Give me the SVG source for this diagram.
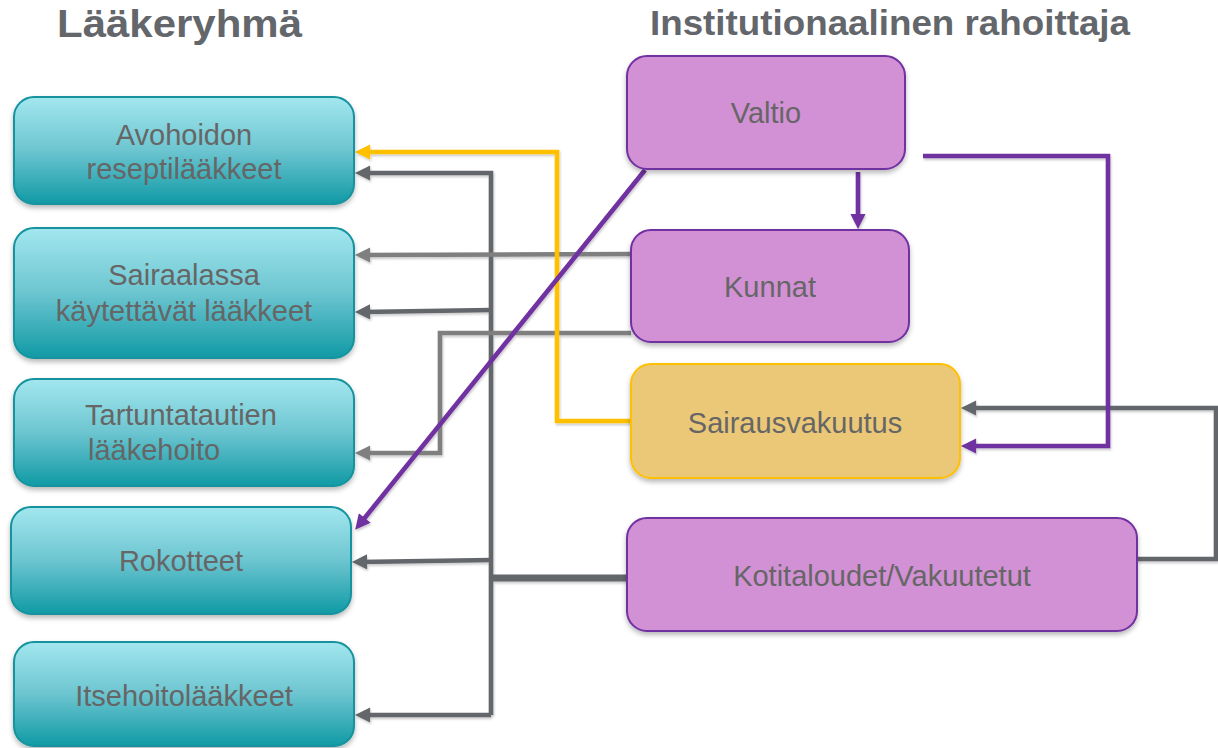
<svg xmlns="http://www.w3.org/2000/svg" width="1218" height="748" viewBox="0 0 1218 748">
<defs>
<linearGradient id="teal" x1="0" y1="0" x2="0" y2="1">
<stop offset="0" stop-color="#a3e7ef"/>
<stop offset="0.5" stop-color="#6cc5d0"/>
<stop offset="1" stop-color="#109aa5"/>
</linearGradient>
<filter id="sh" x="-10%" y="-10%" width="120%" height="130%">
<feDropShadow dx="0" dy="3" stdDeviation="2.5" flood-color="#000" flood-opacity="0.28"/>
</filter>
<filter id="lsh" x="-5%" y="-5%" width="110%" height="110%">
<feDropShadow dx="1" dy="2" stdDeviation="1.2" flood-color="#000" flood-opacity="0.2"/>
</filter>
<marker id="mY" viewBox="0 0 10 10" refX="6" refY="5" markerWidth="3.8" markerHeight="3.3" orient="auto" markerUnits="strokeWidth"><path d="M0,0 L10,5 L0,10 z" fill="#ffc000"/></marker>
<marker id="mD" viewBox="0 0 10 10" refX="6" refY="5" markerWidth="3.8" markerHeight="3.3" orient="auto" markerUnits="strokeWidth"><path d="M0,0 L10,5 L0,10 z" fill="#63666a"/></marker>
<marker id="mG" viewBox="0 0 10 10" refX="6" refY="5" markerWidth="3.8" markerHeight="3.3" orient="auto" markerUnits="strokeWidth"><path d="M0,0 L10,5 L0,10 z" fill="#7f7f7f"/></marker>
<marker id="mP" viewBox="0 0 10 10" refX="6" refY="5" markerWidth="3.8" markerHeight="3.3" orient="auto" markerUnits="strokeWidth"><path d="M0,0 L10,5 L0,10 z" fill="#7030a0"/></marker>
</defs>
<style>
.title{font-family:"Liberation Sans",Arial,sans-serif;font-weight:bold;fill:#63666a}
.lbl{font-family:"Liberation Sans",Arial,sans-serif;font-size:29px;fill:#666666;text-anchor:middle}
.lft{text-anchor:start}
.teal{fill:url(#teal);stroke:#13939e;stroke-width:2;filter:url(#sh)}
.purp{fill:#d291d5;stroke:#7030a0;stroke-width:2;filter:url(#sh)}
.gold{fill:#ebc877;stroke:#ffc000;stroke-width:2;filter:url(#sh)}
.c{fill:none;stroke-width:4.6;stroke-linejoin:miter}
.thick{stroke-width:7}
.cd{stroke:#63666a}
.cg{stroke:#7f7f7f}
.cy{stroke:#ffc000}
.cp{stroke:#7030a0}
</style>
<rect width="1218" height="748" fill="#ffffff"/>
<text class="title" x="57" y="37" font-size="38" textLength="245" lengthAdjust="spacingAndGlyphs">Lääkeryhmä</text>
<text class="title" x="650" y="35" font-size="35" textLength="480" lengthAdjust="spacingAndGlyphs">Institutionaalinen rahoittaja</text>

<g id="connectors" filter="url(#lsh)">
<path class="c cd" d="M491,715 L491,173 L361,173" marker-end="url(#mD)"/>
<path class="c cd" d="M491,310 L361,312" marker-end="url(#mD)"/>
<path class="c cd" d="M491,560 L358,562" marker-end="url(#mD)"/>
<path class="c cd" d="M491,715 L361,715" marker-end="url(#mD)"/>
<path class="c cd thick" d="M489,578 L628,578"/>
<path class="c cd" d="M1137,559 L1216,559 L1216,408 L967,408" marker-end="url(#mD)"/>
<path class="c cg" d="M631,254 L361,255" marker-end="url(#mG)"/>
<path class="c cg" d="M631,333 L440,333 L440,453 L361,453" marker-end="url(#mG)"/>
<path class="c cy" d="M631,421 L557,421 L557,152 L361,152" marker-end="url(#mY)"/>
<path class="c cp" d="M645,170 L359,525" marker-end="url(#mP)"/>
<path class="c cp" d="M858,172 L858,223" marker-end="url(#mP)"/>
<path class="c cp" d="M923,156 L1108,156 L1108,446 L967,446" marker-end="url(#mP)"/>
</g>

<g id="avohoidon">
<rect class="teal" x="14" y="97" width="340" height="107" rx="20"/>
<text class="lbl" x="184" y="145">Avohoidon</text>
<text class="lbl" x="184" y="179">reseptilääkkeet</text>
</g>
<g id="sairaalassa">
<rect class="teal" x="14" y="228" width="340" height="130" rx="20"/>
<text class="lbl" x="184" y="285">Sairaalassa</text>
<text class="lbl" x="184" y="321">käytettävät lääkkeet</text>
</g>
<g id="tartuntatautien">
<rect class="teal" x="14" y="379" width="340" height="107" rx="20"/>
<text class="lbl lft" x="85" y="425">Tartuntatautien</text>
<text class="lbl lft" x="88" y="460">lääkehoito</text>
</g>
<g id="rokotteet">
<rect class="teal" x="11" y="507" width="340" height="107" rx="20"/>
<text class="lbl" x="181" y="571">Rokotteet</text>
</g>
<g id="itsehoito">
<rect class="teal" x="14" y="642" width="340" height="104" rx="20"/>
<text class="lbl" x="184" y="706">Itsehoitolääkkeet</text>
</g>

<g id="valtio">
<rect class="purp" x="627" y="56" width="278" height="113" rx="20"/>
<text class="lbl" x="766" y="123">Valtio</text>
</g>
<g id="kunnat">
<rect class="purp" x="631" y="230" width="278" height="112" rx="20"/>
<text class="lbl" x="770" y="297">Kunnat</text>
</g>
<g id="sairausvakuutus">
<rect class="gold" x="631" y="364" width="329" height="114" rx="20"/>
<text class="lbl" x="795" y="433">Sairausvakuutus</text>
</g>
<g id="kotitaloudet">
<rect class="purp" x="627" y="518" width="510" height="113" rx="20"/>
<text class="lbl" x="882" y="586">Kotitaloudet/Vakuutetut</text>
</g>
</svg>
